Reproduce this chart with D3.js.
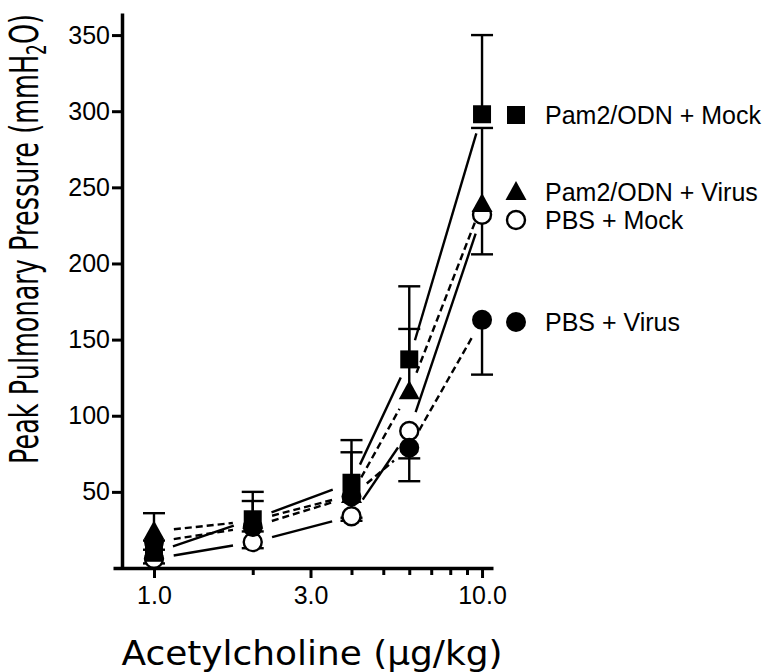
<!DOCTYPE html>
<html><head><meta charset="utf-8">
<script src="https://cdn.jsdelivr.net/npm/d3@7"></script>
<style>body{margin:0;background:#fff}svg{display:block}</style>
</head><body>
<svg id="c" width="776" height="672"></svg>
<script>
// ---- data ----
const doses = [1, 2, 4, 6, 10];
const seriesNames = ["Pam2/ODN + Mock", "Pam2/ODN + Virus", "PBS + Mock", "PBS + Virus"];
const pam2Mock = [10, 32, 56, 137, 298];
const pam2MockErr = [8, 18, 28, 48, 52];      // upper
const pam2Virus = [24, 31, 48, 116, 239];
const pam2VirusErr = [12, 13, 28, 41, 50];    // upper
const pbsMock = [6, 17, 34, 90, 232];
const pbsMockErr = [3, 4, 3, 18, 26];         // lower
const pbsVirus = [17, 27, 47, 79, 163];
const pbsVirusErr = [5, 3, 14, 22, 36];       // lower
const xTickValues = [1, 3, 10];
const xTickLabels = ["1.0", "3.0", "10.0"];
const xMinorTicks = [2, 4, 5, 6, 7, 8, 9];
const yTickValues = [50, 100, 150, 200, 250, 300, 350];

// ---- layout ----
const svg = d3.select("#c");
const x = d3.scaleLog().domain([0.75, 10.8]).range([113, 493]);
const y = d3.scaleLinear().domain([0, 364.5]).range([568, 13]);
const legendRowY = [115, 192, 220, 322];

const series = [
  {name: seriesNames[0], vals: pam2Mock, err: pam2MockErr, dir: 1, marker: "square", fill: "#000", dash: null},
  {name: seriesNames[1], vals: pam2Virus, err: pam2VirusErr, dir: 1, marker: "triangle", fill: "#000", dash: "7,4"},
  {name: seriesNames[2], vals: pbsMock, err: pbsMockErr, dir: -1, marker: "circle", fill: "#fff", dash: null},
  {name: seriesNames[3], vals: pbsVirus, err: pbsVirusErr, dir: -1, marker: "circle", fill: "#000", dash: "7,4"}
];

// lines (with gaps near markers)
const gap = 20;
series.forEach(s => {
  for (let i = 0; i < doses.length - 1; i++) {
    const x1 = x(doses[i]), y1 = y(s.vals[i]), x2 = x(doses[i+1]), y2 = y(s.vals[i+1]);
    const L = Math.hypot(x2 - x1, y2 - y1);
    const ux = (x2 - x1) / L, uy = (y2 - y1) / L;
    svg.append("line")
      .attr("x1", x1 + ux*gap).attr("y1", y1 + uy*gap)
      .attr("x2", x2 - ux*gap).attr("y2", y2 - uy*gap)
      .attr("stroke", "#000").attr("stroke-width", 2.4)
      .attr("stroke-dasharray", s.dash);
  }
});

// error bars
series.forEach(s => {
  doses.forEach((d, i) => {
    const cx = x(d), v = s.vals[i], e = v + s.dir * s.err[i];
    svg.append("line").attr("x1", cx).attr("x2", cx).attr("y1", y(v)).attr("y2", y(e))
      .attr("stroke", "#000").attr("stroke-width", 2.4);
    svg.append("line").attr("x1", cx - 11).attr("x2", cx + 11).attr("y1", y(e)).attr("y2", y(e))
      .attr("stroke", "#000").attr("stroke-width", 2.4);
  });
});

function drawMarker(g, type, cx, cy, fill) {
  if (type === "square") {
    g.append("rect").attr("x", cx - 9).attr("y", cy - 9).attr("width", 18).attr("height", 18).attr("fill", fill);
  } else if (type === "triangle") {
    g.append("path").attr("d", `M${cx},${cy-11}L${cx+10.5},${cy+8}L${cx-10.5},${cy+8}Z`).attr("fill", fill);
  } else {
    g.append("circle").attr("cx", cx).attr("cy", cy).attr("r", fill === "#fff" ? 9 : 10)
      .attr("fill", fill).attr("stroke", "#000").attr("stroke-width", fill === "#fff" ? 2.4 : 0);
  }
}

// markers: draw open circle first, then filled circle, triangle, square
const order = [2, 3, 1, 0];
order.forEach(k => {
  const s = series[k];
  const g = svg.append("g");
  doses.forEach((d, i) => drawMarker(g, s.marker, x(d), y(s.vals[i]), s.fill));
});

// axes
const yAxis = svg.append("g").attr("transform", "translate(122,0)")
  .call(d3.axisLeft(y).tickValues(yTickValues).tickSize(10).tickSizeOuter(0).tickPadding(2));
yAxis.select(".domain").attr("stroke-width", 3.5);
yAxis.selectAll(".tick line").attr("stroke-width", 3);
yAxis.selectAll(".tick text").attr("font-family", "Liberation Sans, Arial, sans-serif").attr("font-size", 25).attr("fill", "#000");

const xAxis = svg.append("g").attr("transform", "translate(0,568)")
  .call(d3.axisBottom(x).tickValues(xTickValues).tickFormat((d, i) => xTickLabels[i]).tickSize(10).tickSizeOuter(0).tickPadding(8));
xAxis.select(".domain").attr("stroke-width", 3.5);
xAxis.selectAll(".tick line").attr("stroke-width", 3);
xAxis.selectAll(".tick text").attr("font-family", "Liberation Sans, Arial, sans-serif").attr("font-size", 25).attr("fill", "#000");

const xMinor = svg.append("g").attr("transform", "translate(0,568)")
  .call(d3.axisBottom(x).tickValues(xMinorTicks).tickFormat("").tickSize(7).tickSizeOuter(0));
xMinor.select(".domain").remove();
xMinor.selectAll(".tick line").attr("stroke-width", 3);

// axis titles
svg.append("text").attr("x", 312).attr("y", 665).attr("text-anchor", "middle")
  .attr("font-family", "DejaVu Sans, sans-serif").attr("font-size", 33)
  .attr("textLength", 381).attr("lengthAdjust", "spacingAndGlyphs")
  .text("Acetylcholine (µg/kg)");

const yt = svg.append("text").attr("transform", "translate(38,239) rotate(-90) scale(0.655,1)").attr("text-anchor", "middle")
  .attr("font-family", "DejaVu Sans, sans-serif").attr("font-size", 39);
yt.append("tspan").text("Peak Pulmonary Pressure (mmH");
yt.append("tspan").attr("font-size", 26).attr("dy", 8).text("2");
yt.append("tspan").attr("dy", -8).text("O)");

// legend
series.forEach((s, k) => {
  const g = svg.append("g");
  drawMarker(g, s.marker, 516, legendRowY[k], s.fill);
  g.append("text").attr("x", 545).attr("y", legendRowY[k]).attr("dy", "0.36em")
    .attr("font-family", "Liberation Sans, Arial, sans-serif").attr("font-size", 25)
    .text(s.name);
});
</script>
</body></html>
